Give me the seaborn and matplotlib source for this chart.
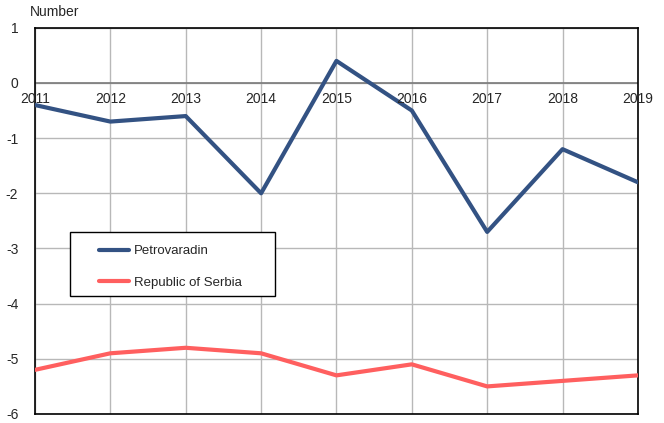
import matplotlib
matplotlib.use("Agg")
import matplotlib.pyplot as plt
from matplotlib.patches import Rectangle
import seaborn as sns
import pandas as pd

years = [2011, 2012, 2013, 2014, 2015, 2016, 2017, 2018, 2019]
petrovaradin = [-0.4, -0.7, -0.6, -2.0, 0.4, -0.5, -2.7, -1.2, -1.8]
serbia = [-5.2, -4.9, -4.8, -4.9, -5.3, -5.1, -5.5, -5.4, -5.3]
series_names = ["Petrovaradin", "Republic of Serbia"]
colors = ["#335283", "#FF5F5F"]

df = pd.DataFrame({
    "year": years * 2,
    "value": petrovaradin + serbia,
    "series": [series_names[0]] * len(years) + [series_names[1]] * len(years),
})

sns.set_style("white")
plt.rcParams["font.family"] = ["Liberation Sans", "DejaVu Sans"]
plt.rcParams["axes.unicode_minus"] = False

fig = plt.figure(figsize=(6.64, 4.23), dpi=100)
ax = fig.add_axes([0.0527, 0.0213, 0.908, 0.913])

# grid
for y in range(-6, 2):
    ax.axhline(y, color="#b8b8b8", lw=1, zorder=0)
for x in years:
    ax.axvline(x, color="#b8b8b8", lw=1, zorder=0)
ax.axhline(0, color="#7a7a7a", lw=1.2, zorder=1)

sns.lineplot(data=df, x="year", y="value", hue="series", palette=colors,
             linewidth=3.0, ax=ax, zorder=3)

ax.set_xlim(2011, 2019)
ax.set_ylim(-6, 1)
ax.set_yticks(range(-6, 2))
ax.set_yticklabels([str(v) for v in range(-6, 2)], fontsize=10)
ax.set_xticks(years)
ax.set_xticklabels([])
ax.tick_params(axis="both", length=0, pad=12)
ax.set_xlabel("")
ax.set_ylabel("")

# year labels sit just under the zero line
for yr in years:
    ax.text(yr, -0.17, str(yr), ha="center", va="top", fontsize=10)

for s in ax.spines.values():
    s.set_color("black")
    s.set_linewidth(1.2)

fig.text(0.045, 0.955, "Number", ha="left", va="bottom", fontsize=10)

# legend box drawn separately for the wide side padding
ax.add_patch(Rectangle((0.058, 0.306), 0.34, 0.164, transform=ax.transAxes,
                       facecolor="white", edgecolor="black", lw=1.0, zorder=4))
leg = ax.legend(loc="upper left", bbox_to_anchor=(0.106, 0.437), fontsize=9.5,
                frameon=False, handlelength=2.3, borderpad=0,
                labelspacing=1.45, handletextpad=0.35, borderaxespad=0)
leg.set_zorder(5)
for line in leg.get_lines():
    line.set_linewidth(3.0)

fig.savefig("out.png", dpi=100)
